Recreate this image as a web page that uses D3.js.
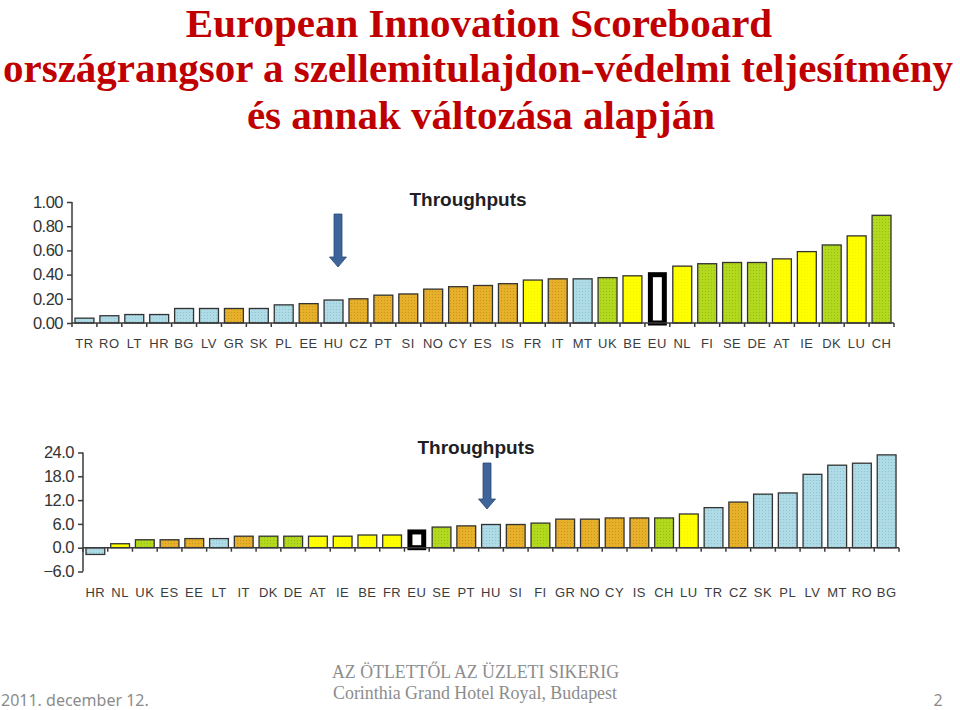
<!DOCTYPE html>
<html>
<head>
<meta charset="utf-8">
<script src="https://d3js.org/d3.v7.min.js"></script>
<style>
body{margin:0;background:#fff;}
svg{display:block;}
</style>
</head>
<body>
<div id="chart"></div>
<script>
// top chart: level of IP performance
var topCats=["TR","RO","LT","HR","BG","LV","GR","SK","PL","EE","HU","CZ","PT","SI","NO","CY","ES","IS","FR","IT","MT","UK","BE","EU","NL","FI","SE","DE","AT","IE","DK","LU","CH"];
var topVals=[0.04,0.06,0.07,0.07,0.12,0.12,0.12,0.12,0.15,0.16,0.19,0.20,0.23,0.24,0.28,0.30,0.31,0.325,0.355,0.365,0.365,0.375,0.39,0.42,0.47,0.49,0.50,0.50,0.53,0.59,0.645,0.72,0.89];
var topGroups=["modest","modest","modest","modest","modest","modest","moderate","modest","modest","moderate","modest","moderate","moderate","moderate","moderate","moderate","moderate","moderate","follower","moderate","modest","leader","follower","eu","follower","leader","leader","leader","follower","follower","leader","follower","leader"];
var topTicks=[0,0.2,0.4,0.6,0.8,1.0];

// bottom chart: change of IP performance
var botCats=["HR","NL","UK","ES","EE","LT","IT","DK","DE","AT","IE","BE","FR","EU","SE","PT","HU","SI","FI","GR","NO","CY","IS","CH","LU","TR","CZ","SK","PL","LV","MT","RO","BG"];
var botVals=[-1.7,1.0,2.0,2.0,2.3,2.3,2.9,2.9,2.9,2.9,2.9,3.2,3.2,4.6,5.2,5.5,5.85,5.85,6.2,7.2,7.2,7.5,7.5,7.5,8.5,10.1,11.5,13.5,13.8,18.5,20.8,21.3,23.4];
var botGroups=["modest","follower","leader","moderate","moderate","modest","moderate","leader","leader","follower","follower","follower","follower","eu","leader","moderate","modest","moderate","leader","moderate","moderate","moderate","moderate","leader","follower","modest","moderate","modest","modest","modest","modest","modest","modest"];
var botTicks=[-6,0,6,12,18,24];

var W=960,H=710;
var svg=d3.select("#chart").append("svg").attr("width",W).attr("height",H);
var defs=svg.append("defs");

var groupColor={modest:"#aedbe6",moderate:"#e6b02a",follower:"#ffff00",leader:"#b3d91e"};
var dotColor={modest:"#8fc4d2",moderate:"#c99418",follower:"#f2f200",leader:"#98c012"};
Object.keys(groupColor).forEach(function(k){
	var p=defs.append("pattern").attr("id","pat-"+k).attr("patternUnits","userSpaceOnUse")
		.attr("width",3).attr("height",3);
	p.append("rect").attr("width",3).attr("height",3).attr("fill",groupColor[k]);
	p.append("rect").attr("width",1).attr("height",1).attr("fill",dotColor[k]);
});

// title
var titleColor="#c00000";
var titles=[["European Innovation Scoreboard",479,37],["országrangsor a szellemitulajdon-védelmi teljesítmény",478,82],["és annak változása alapján",481,129]];
titles.forEach(function(t){
	svg.append("text").attr("x",t[1]).attr("y",t[2]).attr("text-anchor","middle")
		.attr("font-family","'Liberation Serif','Times New Roman',serif").attr("font-weight","bold")
		.attr("font-size",41).attr("fill",titleColor).text(t[0]);
});

function drawArrow(cx,y0,y1){
	var headH=10,sw=4,hw=8.5;
	svg.append("path")
		.attr("d","M"+(cx-sw)+","+y0+"L"+(cx+sw)+","+y0+"L"+(cx+sw)+","+(y1-headH)+"L"+(cx+hw)+","+(y1-headH)+
			"L"+cx+","+y1+"L"+(cx-hw)+","+(y1-headH)+"L"+(cx-sw)+","+(y1-headH)+"Z")
		.attr("fill","#3e649a").attr("stroke","#2c4a78").attr("stroke-width",0.8);
}

function drawChart(opt){
	var x=d3.scaleBand().domain(opt.cats).range([opt.x0,opt.x1]).paddingInner(0.24).paddingOuter(0.12);
	var y=d3.scaleLinear().domain(opt.domain).range([opt.yBottom,opt.yTop]);
	var g=svg.append("g");
	var y0=y(0);
	var axisColor="#3a3a3a";

	// y axis
	var ya=g.append("g").attr("transform","translate("+opt.x0+",0)")
		.call(d3.axisLeft(y).tickValues(opt.ticks).tickSize(5).tickPadding(4).tickFormat(d3.format(opt.fmt)));
	ya.select(".domain").attr("stroke",axisColor).attr("stroke-width",1.5).attr("d","M0,"+y(opt.domain[0])+"V"+y(opt.domain[1]));
	ya.selectAll(".tick line").attr("stroke",axisColor).attr("stroke-width",1.5);
	ya.selectAll(".tick text").attr("font-family","'Liberation Sans',Arial,sans-serif")
		.attr("font-size",16.5).attr("fill","#333").attr("letter-spacing",-0.5);

	// bars
	g.selectAll("rect.bar").data(opt.cats).enter().append("rect").attr("class","bar")
		.attr("x",function(d){return x(d);})
		.attr("width",x.bandwidth())
		.attr("y",function(d,i){return Math.min(y(opt.vals[i]),y0);})
		.attr("height",function(d,i){return Math.abs(y(opt.vals[i])-y0);})
		.attr("fill",function(d,i){return "url(#pat-"+opt.groups[i]+")";})
		.attr("stroke","#333").attr("stroke-width",1.3)
		.filter(function(d,i){return opt.groups[i]==="eu";})
		.attr("fill","#fff").attr("stroke","#000").attr("stroke-width",5)
		.attr("x",function(d){return x(d)+2.5;})
		.attr("width",x.bandwidth()-5)
		.attr("y",function(d){return y(opt.vals[opt.cats.indexOf(d)])+2.5;})
		.attr("height",function(d){return y0-y(opt.vals[opt.cats.indexOf(d)])-2.5;});

	// x axis line and ticks between bars
	g.append("line").attr("x1",opt.x0).attr("x2",opt.x1).attr("y1",y0).attr("y2",y0)
		.attr("stroke",axisColor).attr("stroke-width",1.5);
	var step=x.step();
	var bounds=opt.cats.map(function(d){return x(d)-(step-x.bandwidth())/2;});
	bounds.push(opt.x1);
	g.selectAll("line.xt").data(bounds).enter().append("line").attr("class","xt")
		.attr("x1",function(d){return d;}).attr("x2",function(d){return d;})
		.attr("y1",y0).attr("y2",y0+4).attr("stroke",axisColor).attr("stroke-width",1.5);

	// category labels
	g.selectAll("text.xl").data(opt.cats).enter().append("text").attr("class","xl")
		.attr("x",function(d){return x(d)+x.bandwidth()/2;})
		.attr("y",opt.labelY).attr("text-anchor","middle")
		.attr("font-family","'Liberation Sans',Arial,sans-serif").attr("font-size",13)
		.attr("letter-spacing",0.5).attr("fill","#3c3c3c").text(function(d){return d;});

	// title
	svg.append("text").attr("x",opt.titleX).attr("y",opt.titleY).attr("text-anchor","middle")
		.attr("font-family","'Liberation Sans',Arial,sans-serif").attr("font-weight","bold")
		.attr("font-size",19).attr("fill","#1e1e24").text("Throughputs");

	drawArrow(opt.arrowX,opt.arrowY0,opt.arrowY1);
}

drawChart({cats:topCats,vals:topVals,groups:topGroups,ticks:topTicks,domain:[0,1],fmt:".2f",
	x0:72,x1:894,yBottom:323,yTop:202,labelY:348,titleX:468,titleY:206,
	arrowX:338,arrowY0:214,arrowY1:267});

drawChart({cats:botCats,vals:botVals,groups:botGroups,ticks:botTicks,domain:[-6,24],fmt:".1f",
	x0:83,x1:899,yBottom:571.5,yTop:452.5,labelY:597,titleX:476,titleY:454,
	arrowX:487,arrowY0:463,arrowY1:509});

// footer
svg.append("text").attr("x",1).attr("y",706).attr("font-family","'Noto Sans','Open Sans',sans-serif")
	.attr("font-size",16).attr("fill","#8c8c8c").text("2011. december 12.");
svg.append("text").attr("x",938).attr("y",706).attr("text-anchor","middle").attr("font-family","'Noto Sans','Open Sans',sans-serif")
	.attr("font-size",16).attr("fill","#8c8c8c").text("2");
svg.append("text").attr("x",332).attr("y",678).attr("textLength",287).attr("lengthAdjust","spacingAndGlyphs")
	.attr("font-family","'Liberation Serif','Times New Roman',serif").attr("font-size",18).attr("fill","#8c8c8c")
	.text("AZ ÖTLETTŐL AZ ÜZLETI SIKERIG");
svg.append("text").attr("x",333).attr("y",699).attr("textLength",284).attr("lengthAdjust","spacingAndGlyphs")
	.attr("font-family","'Liberation Serif','Times New Roman',serif").attr("font-size",18).attr("fill","#8c8c8c")
	.text("Corinthia Grand Hotel Royal, Budapest");
</script>
</body>
</html>
